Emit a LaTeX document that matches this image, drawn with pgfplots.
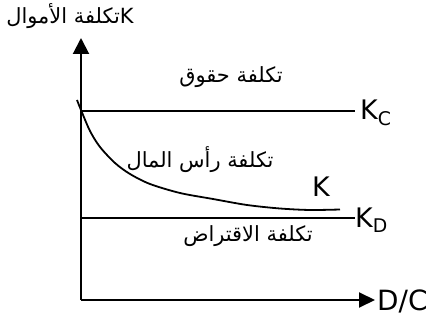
\documentclass[border=0pt]{standalone}
\usepackage{pgfplots}
\pgfplotsset{compat=1.18}
\usetikzlibrary{arrows.meta}
\usepackage{fontspec}
\setmainfont{DejaVu Sans}
\newfontfamily\arabicfont[Script=Arabic]{DejaVu Sans}
\TeXXeTstate=1
\begin{document}
\begin{tikzpicture}
\begin{axis}[
  scale only axis,
  width=294bp, height=262bp,
  xmin=81, xmax=375, ymin=23, ymax=285,
  axis lines=left,
  axis line style={line width=2bp},
  every outer x axis line/.append style={-{Triangle[length=16bp,width=15bp]}},
  every outer y axis line/.append style={-{Triangle[length=16bp,width=16bp]}},
  ticks=none,
  clip=false,
]
\path (axis cs:0,0) rectangle (axis cs:430,323);
% K_C line
\addplot[black, line width=1.8bp] coordinates {(81,212.3) (355,212.3)};
% K_D line
\addplot[black, line width=1.8bp] coordinates {(81,105.3) (355,105.3)};
% K curve
\addplot[black, line width=1.8bp, smooth] coordinates {
 (77,223) (81,213) (90,192) (100,176) (115,160) (130,149) (150,139)
 (180,130) (213,124) (247,118) (280,114.5) (310,113) (340,113.5)};
% labels
\node[inner sep=0, font=\fontsize{21}{24}\selectfont] at (axis cs:70,307) {{\arabicfont\beginR تكلفة الأموال\endR}{\fontsize{21}{24}\selectfont K}};
\node[inner sep=0, font=\fontsize{21}{24}\selectfont] at (axis cs:231,246) {\arabicfont\beginR تكلفة حقوق\endR};
\node[inner sep=0, font=\fontsize{21}{24}\selectfont] at (axis cs:200,163) {\arabicfont\beginR تكلفة رأس المال\endR};
\node[inner sep=0, font=\fontsize{21}{24}\selectfont] at (axis cs:248,87) {\arabicfont\beginR تكلفة الاقتراض\endR};
\node[inner sep=0, font=\fontsize{27}{30}\selectfont] at (axis cs:321,136) {K};
\node[anchor=west, inner sep=0, font=\fontsize{27}{30}\selectfont] at (axis cs:360,210) {K\textsubscript{C}};
\node[anchor=west, inner sep=0, font=\fontsize{27}{30}\selectfont] at (axis cs:355,103) {K\textsubscript{D}};
\node[anchor=west, inner sep=0, font=\fontsize{28}{30}\selectfont] at (axis cs:377,22) {D/C};
\end{axis}
\end{tikzpicture}
\end{document}
